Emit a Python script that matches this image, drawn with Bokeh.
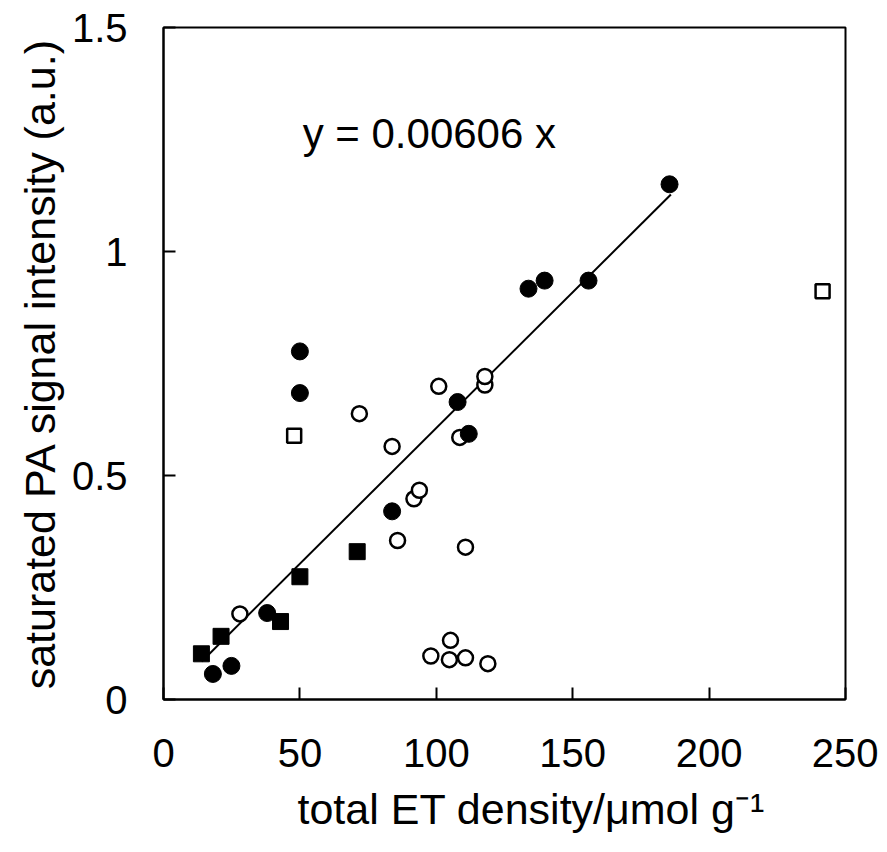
from bokeh.plotting import figure
from bokeh.models import Range1d, FixedTicker, Label, Title
from bokeh.embed import file_html
from bokeh.resources import INLINE

FONT = "Liberation Sans"

# filled circles
fc_x = [18.1, 24.9, 38.0, 50.0, 50.0, 83.8, 107.8, 111.9, 133.8, 139.7, 155.8, 185.5]
fc_y = [0.057, 0.075, 0.193, 0.684, 0.777, 0.420, 0.664, 0.593, 0.917, 0.935, 0.935, 1.150]

# filled squares
fs_x = [13.9, 21.1, 42.9, 50.0, 71.0]
fs_y = [0.102, 0.141, 0.174, 0.274, 0.330]

# open circles
oc_x = [28.0, 71.8, 83.8, 85.8, 91.8, 93.8, 98.0, 100.9, 104.8, 105.2, 108.6,
        110.7, 110.7, 117.8, 117.8, 118.9]
oc_y = [0.191, 0.638, 0.565, 0.355, 0.448, 0.467, 0.097, 0.699, 0.089, 0.132, 0.585,
        0.340, 0.093, 0.702, 0.721, 0.080]

# open squares
os_x = [47.9, 241.6]
os_y = [0.589, 0.911]

# regression line y = slope * x
slope = 0.00606
fit_x = [14.0, 186.0]
fit_y = [slope * v for v in fit_x]

x_ticks = [0, 50, 100, 150, 200, 250]
y_ticks = [0, 0.5, 1, 1.5]
y_tick_labels = {0: "0", 0.5: "0.5", 1: "1", 1.5: "1.5"}

p = figure(width=878, height=850,
           x_range=Range1d(0, 250), y_range=Range1d(0, 1.5),
           output_backend="svg", toolbar_location=None,
           min_border_left=163, min_border_right=33,
           min_border_top=27, min_border_bottom=151)

p.xgrid.visible = False
p.ygrid.visible = False
p.outline_line_color = "black"
p.outline_line_width = 2
p.outline_line_alpha = 1

for ax in (p.xaxis, p.yaxis):
    ax.axis_line_width = 2
    ax.axis_line_color = "black"
    ax.major_tick_in = 12
    ax.major_tick_out = 0
    ax.major_tick_line_width = 2
    ax.minor_tick_line_color = None
    ax.major_label_text_font = FONT
    ax.major_label_text_font_size = "40px"
    ax.major_label_text_color = "black"

p.xaxis.ticker = FixedTicker(ticks=x_ticks)
p.yaxis.ticker = FixedTicker(ticks=y_ticks)
p.yaxis.major_label_overrides = y_tick_labels
p.xaxis.major_label_standoff = 39
p.yaxis.major_label_standoff = 36

p.yaxis.axis_label = "saturated PA signal intensity (a.u.)"
p.yaxis.axis_label_text_font = FONT
p.yaxis.axis_label_text_font_size = "43px"
p.yaxis.axis_label_text_font_style = "normal"
p.yaxis.axis_label_text_color = "black"
p.yaxis.axis_label_standoff = 5

# x axis title, placed in the panel below the axis
p.add_layout(Title(text="total ET density/\u03bcmol g\u207b\u00b9", align="left",
                   offset=134, text_font=FONT, text_font_size="43px",
                   text_font_style="normal", text_color="black", standoff=26),
             "below")

# fit line
p.line(fit_x, fit_y, line_color="black", line_width=2)

# markers
p.scatter(oc_x, oc_y, marker="circle", size=15, fill_color="white",
          line_color="black", line_width=2.5)
p.scatter(os_x, os_y, marker="square", size=14, fill_color="white",
          line_color="black", line_width=2.5)
p.scatter(fs_x, fs_y, marker="square", size=16, fill_color="black",
          line_color="black", line_width=1)
p.scatter(fc_x, fc_y, marker="circle", size=17, fill_color="black",
          line_color="black", line_width=1)

# equation annotation
p.add_layout(Label(x=51.0, y=1.263, text="y = 0.00606 x", text_font=FONT,
                   text_font_size="42px", text_color="black",
                   text_baseline="alphabetic", text_align="left"))

open("out.html", "w").write(file_html(p, INLINE))
